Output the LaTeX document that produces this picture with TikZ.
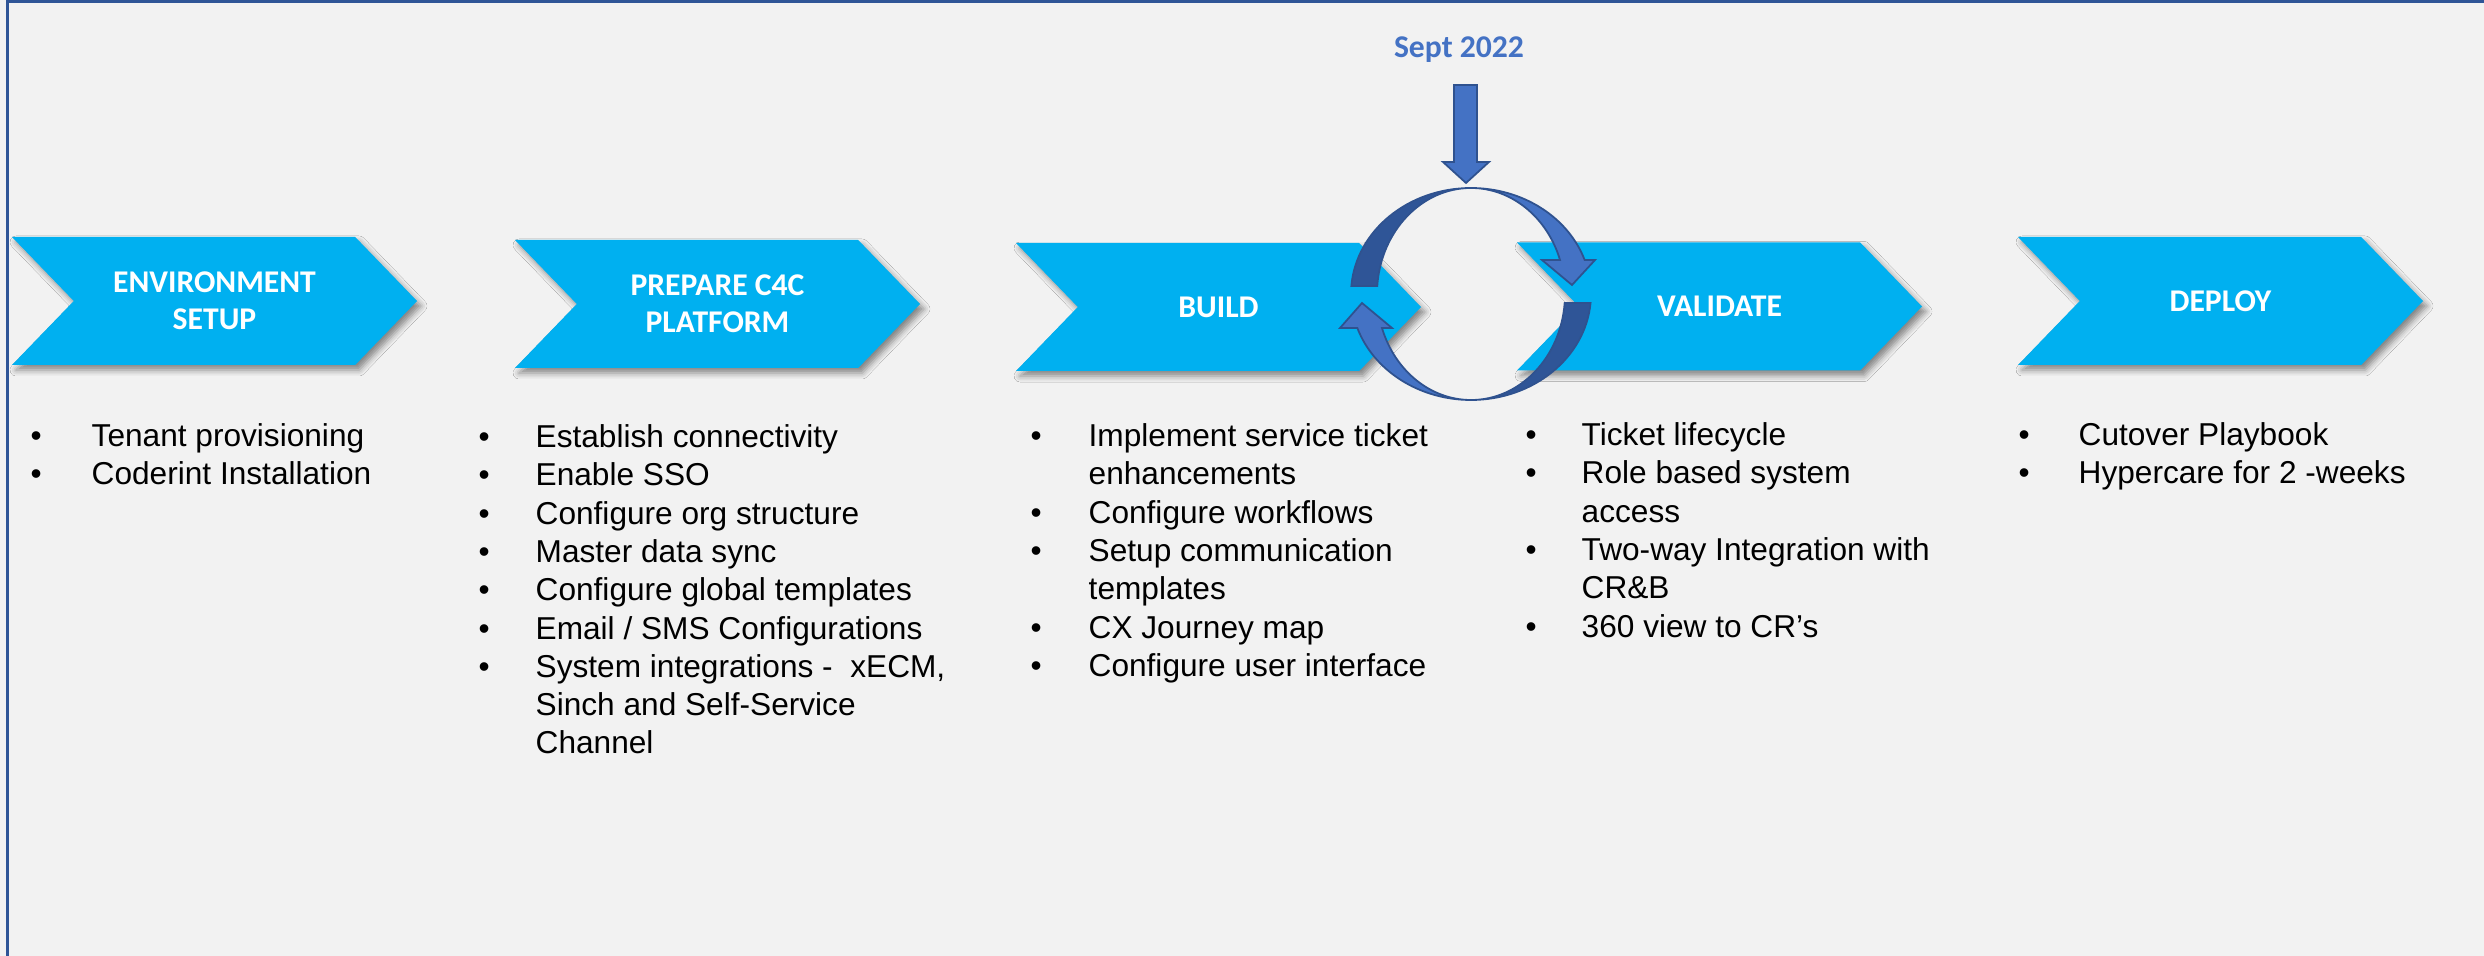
\documentclass[tikz,border=0pt]{standalone}
\usepackage{fontspec}
\setmainfont{Liberation Sans}
\newfontfamily\labelfont{Carlito}
\usepackage{tikz}
\usetikzlibrary{shapes.symbols,shadows.blur,calc}
\usepackage{xcolor}
\definecolor{canvas}{HTML}{F2F2F2}
\definecolor{frame}{HTML}{2F5597}
\definecolor{chevblue}{HTML}{00B0F0}
\definecolor{loopfront}{HTML}{4472C4}
\definecolor{loopback}{HTML}{2F5597}
\definecolor{loopedge}{HTML}{2F528F}

% bullet lists: bullet, then text at a fixed hang
\newlength\bulletgap
\setlength\bulletgap{0.58cm}
\newcommand\itm[1]{\strut\makebox[\bulletgap][l]{\textbullet}#1}
\newcommand\cont[1]{\strut\hspace*{\bulletgap}#1}

\tikzset{
  phasebox/.style={signal,signal to=east,signal from=west,signal pointer angle=92,
    fill=chevblue,minimum width=4.05cm,minimum height=1.28cm,inner sep=0pt,
    text=white,align=center,font=\labelfont\bfseries\fontsize{9}{10.5}\selectfont,
    blur shadow={shadow xshift=0.04cm,shadow yshift=-0.05cm,shadow blur radius=0.06cm,shadow opacity=45}},
  tasks/.style={anchor=north west,inner sep=0pt,align=left,font=\fontsize{9}{10.9}\selectfont},
  gap/.code={\setlength\bulletgap{#1}},
  front/.style={fill=loopfront,draw=loopedge,line width=0.5pt},
  back/.style={fill=loopback,draw=loopedge,line width=0.5pt}
}

\begin{document}
\begin{tikzpicture}
  \useasboundingbox (0,0) rectangle (24.84,-9.56);
  \fill[canvas] (0,0) rectangle (24.84,-9.56);
  \draw[frame,line width=0.85pt] (0.075,-9.6) -- (0.075,-0.016) -- (24.9,-0.016);

  % phases
  \node[phasebox] (env) at (2.145,-3.01) {ENVIRONMENT\\SETUP};
  \node[phasebox] (prep) at (7.175,-3.04) {PREPARE C4C\\PLATFORM};
  \node[phasebox] (build) at (12.185,-3.07) {BUILD};
  \node[phasebox] (valid) at (17.195,-3.065) {VALIDATE};
  \node[phasebox] (deploy) at (22.205,-3.01) {DEPLOY};

  % tasks under each phase
  \node[tasks,gap=0.61cm] (envtasks) at (0.30,-4.19) {\itm{Tenant provisioning}\\
    \itm{Coderint Installation}};
  \node[tasks,gap=0.57cm] (preptasks) at (4.78,-4.20) {\itm{Establish connectivity}\\
    \itm{Enable SSO}\\
    \itm{Configure org structure}\\
    \itm{Master data sync}\\
    \itm{Configure global templates}\\
    \itm{Email / SMS Configurations}\\
    \itm{System integrations -~~xECM,}\\
    \cont{Sinch and Self-Service}\\
    \cont{Channel}};
  \node[tasks] (buildtasks) at (10.30,-4.19) {\itm{Implement service ticket}\\
    \cont{enhancements}\\
    \itm{Configure workflows}\\
    \itm{Setup communication}\\
    \cont{templates}\\
    \itm{CX Journey map}\\
    \itm{Configure user interface}};
  \node[tasks,gap=0.56cm] (validtasks) at (15.25,-4.18) {\itm{Ticket lifecycle}\\
    \itm{Role based system}\\
    \cont{access}\\
    \itm{Two-way Integration with}\\
    \cont{CR\&B}\\
    \itm{360 view to CR’s}};
  \node[tasks,gap=0.60cm] (deploytasks) at (20.18,-4.18) {\itm{Cutover Playbook}\\
    \itm{Hypercare for 2 -weeks}};

  % iteration between build and validate
  \node[font=\labelfont\bfseries\fontsize{9}{11}\selectfont,text=loopfront] (sept) at (14.59,-0.50) {Sept 2022};
  \draw[front] (14.54,-0.85) -- (14.77,-0.85) -- (14.77,-1.62) -- (14.89,-1.62)
    -- (14.66,-1.83) -- (14.43,-1.62) -- (14.54,-1.62) -- cycle;

  \coordinate (loop) at (14.71,-2.94);
  \filldraw[back] ($(loop)+(175.7:1.20 and 1.06)$)
    arc[start angle=175.7,end angle=90,x radius=1.20,y radius=1.06]
    arc[start angle=90,end angle=175.7,x radius=0.94,y radius=1.06] -- cycle;
  \filldraw[front] ($(loop)+(90:1.20 and 1.06)$)
    arc[start angle=90,end angle=18.7,x radius=1.20,y radius=1.06]
    -- (15.95,-2.60) -- (15.72,-2.85) -- (15.42,-2.60)
    -- ($(loop)+(18.7:0.94 and 1.06)$)
    arc[start angle=18.7,end angle=90,x radius=0.94,y radius=1.06] -- cycle;
  \filldraw[back] ($(loop)+(-4.9:1.20 and 1.06)$)
    arc[start angle=-4.9,end angle=-90,x radius=1.20,y radius=1.06]
    arc[start angle=-90,end angle=-4.9,x radius=0.94,y radius=1.06] -- cycle;
  \filldraw[front] ($(loop)+(-90:1.20 and 1.06)$)
    arc[start angle=-90,end angle=-161.3,x radius=1.20,y radius=1.06]
    -- (13.40,-3.28) -- (13.62,-3.03) -- (13.92,-3.28)
    -- ($(loop)+(-161.3:0.94 and 1.06)$)
    arc[start angle=-161.3,end angle=-90,x radius=0.94,y radius=1.06] -- cycle;
\end{tikzpicture}
\end{document}
